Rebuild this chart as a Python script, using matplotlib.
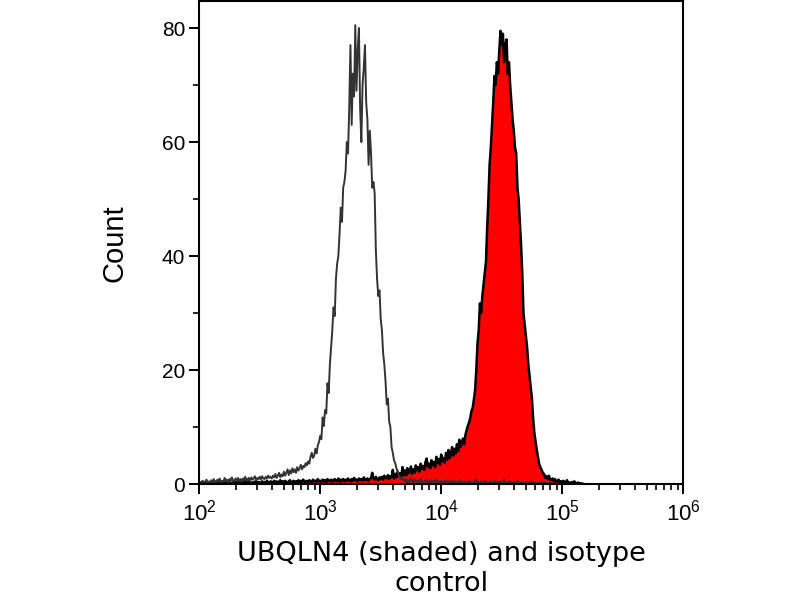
import numpy as np
import matplotlib
matplotlib.use("Agg")
import matplotlib.pyplot as plt
from matplotlib.ticker import MultipleLocator, LogLocator, LogFormatterMathtext

plt.rcParams['font.family'] = ['Liberation Sans', 'DejaVu Sans']
plt.rcParams['mathtext.default'] = 'regular'

# histogram channels, log10 of fluorescence, 0.01 decade apart from 10^2
start_log = 2.0
step_log = 0.01

# isotype control (open, dark grey line)
iso_counts = [
    0.0, 0.3, 0.1, 0.6, 0.2, 0.4, 0.8, 0.2, 0.5, 0.3,
    0.7, 0.2, 0.9, 0.4, 0.3, 0.8, 0.5, 1.0, 0.3, 0.6,
    0.4, 1.1, 0.5, 0.8, 0.3, 0.9, 0.6, 1.2, 0.4, 0.7,
    1.0, 0.5, 1.1, 0.6, 0.9, 0.4, 1.0, 0.7, 1.3, 0.6,
    0.9, 1.1, 0.5, 1.2, 0.8, 1.0, 1.4, 0.7, 1.1, 0.9,
    1.3, 0.8, 1.4, 1.0, 0.9, 1.3, 1.0, 1.5, 1.1, 1.3,
    1.0, 1.5, 1.2, 1.8, 1.1, 1.5, 2.0, 1.2, 1.7, 1.4,
    2.2, 1.5, 2.0, 2.6, 1.6, 2.4, 1.9, 2.8, 2.1, 2.6,
    2.0, 3.0, 2.4, 2.8, 3.4, 2.6, 3.2, 3.0, 3.7, 3.3,
    4.0, 3.6, 4.8, 5.5, 4.6, 5.0, 6.2, 5.4, 6.8, 7.4,
    8.5, 7.9, 11.7, 10.2, 13.0, 12.4, 17.7, 16.0, 21.0, 24.0,
    27.0, 31.0, 29.5, 36.0, 38.7, 40.0, 44.0, 48.5, 46.0, 52.0,
    53.0, 55.0, 60.0, 58.0, 66.0, 77.0, 63.0, 72.0, 68.0, 80.5,
    69.0, 76.0, 80.0, 66.0, 60.0, 70.0, 73.0, 77.0, 67.0, 64.0,
    56.0, 62.0, 58.0, 52.0, 53.0, 51.0, 41.0, 36.0, 33.0, 34.0,
    29.0, 27.0, 23.0, 21.0, 18.0, 14.0, 15.0, 11.0, 10.0, 6.5,
    5.5, 4.2, 3.7, 2.8, 2.3, 1.6, 1.2, 0.9, 1.3, 0.7,
    0.5, 0.9, 0.3, 0.7, 0.4, 1.0, 0.6, 0.3, 0.8, 0.5,
    0.4, 0.7, 0.3, 0.9, 0.5, 0.2, 0.6, 0.4, 0.8, 0.3,
    0.5, 0.2, 0.7, 0.4, 0.6, 0.3, 0.8, 0.2, 0.5, 0.4,
    0.6, 0.3, 0.5, 0.2, 0.7, 0.4, 0.3, 0.6, 0.2, 0.5,
    0.3, 0.6, 0.2, 0.4, 0.5, 0.2, 0.7, 0.3, 0.4, 0.2,
    0.5, 0.3, 0.2, 0.6, 0.3, 0.4, 0.2, 0.5, 0.3, 0.8,
    0.3, 0.4, 0.2, 0.5, 0.3, 0.2, 0.6, 0.3, 0.4, 0.2,
    0.3, 0.5, 0.2, 0.3, 0.6, 0.2, 0.4, 0.3, 0.2, 0.5,
    0.3, 0.2, 0.8, 0.3, 0.4, 0.2, 0.3, 0.5, 0.2, 0.3,
    0.4, 0.2, 0.3, 0.6, 0.2, 0.3, 0.2, 0.4, 0.2, 0.3,
    0.2, 0.4, 0.2, 0.3, 0.2, 0.5, 0.2, 0.3, 0.1, 0.2,
    0.3, 0.1, 0.2, 0.4, 0.1, 0.2, 0.3, 0.1, 0.2, 0.1,
    0.2, 0.1, 0.0, 0.2, 0.1, 0.0, 0.1, 0.0, 0.0, 0.0,
    0.0,
]

# UBQLN4 stained (red shaded, black outline)
ubq_counts = [
    0.0, 0.2, 0.4, 0.1, 0.3, 0.2, 0.5, 0.1, 0.3, 0.2,
    0.4, 0.2, 0.1, 0.3, 0.5, 0.2, 0.3, 0.1, 0.4, 0.2,
    0.3, 0.1, 0.4, 0.2, 0.3, 0.5, 0.2, 0.1, 0.3, 0.4,
    0.2, 0.3, 0.1, 0.5, 0.2, 0.4, 0.2, 0.3, 0.6, 0.2,
    0.3, 0.5, 0.2, 0.3, 0.1, 0.4, 0.3, 0.6, 0.2, 0.4,
    0.3, 0.2, 0.5, 0.3, 0.4, 0.2, 0.6, 0.3, 0.2, 0.5,
    0.4, 0.3, 0.6, 0.2, 0.5, 0.3, 0.4, 0.7, 0.3, 0.5,
    0.3, 0.6, 0.4, 0.2, 0.5, 0.7, 0.3, 0.4, 0.6, 0.3,
    0.5, 0.4, 0.7, 0.3, 0.6, 0.4, 0.8, 0.5, 0.3, 0.6,
    0.4, 0.7, 0.5, 0.3, 0.8, 0.5, 0.6, 0.4, 0.9, 0.5,
    0.6, 0.4, 0.8, 0.5, 0.7, 0.3, 0.9, 0.6, 0.5, 0.8,
    0.4, 0.7, 0.9, 0.5, 0.6, 1.0, 0.4, 0.8, 0.6, 0.9,
    0.5, 0.8, 0.6, 1.0, 0.7, 0.5, 0.9, 0.6, 1.1, 0.7,
    0.8, 0.5, 1.0, 0.7, 0.9, 0.6, 1.2, 0.8, 0.7, 1.0,
    0.6, 0.9, 1.1, 2.0, 1.0, 0.8, 1.3, 0.9, 0.7, 1.2,
    0.9, 1.3, 0.8, 1.5, 1.1, 1.0, 1.6, 0.9, 1.4, 1.2,
    2.5, 1.0, 1.8, 1.2, 2.2, 1.5, 1.9, 1.1, 3.0, 1.6,
    2.4, 1.5, 2.8, 1.9, 2.2, 3.1, 1.8, 2.6, 2.0, 3.3,
    2.4, 3.0, 2.2, 3.6, 2.7, 3.2, 2.5, 3.9, 4.5, 3.0,
    3.6, 2.8, 4.2, 3.3, 3.9, 3.0, 4.8, 3.7, 4.4, 3.4,
    5.2, 4.0, 4.6, 3.8, 5.5, 4.3, 6.0, 4.6, 5.3, 6.5,
    5.0, 6.2, 5.4, 7.0, 5.8, 7.8, 6.5, 7.2, 8.0, 7.0,
    8.6, 9.5, 10.2, 10.8, 11.6, 12.8, 13.4, 14.8, 16.5, 20.0,
    24.7, 27.0, 31.7, 30.0, 33.0, 35.0, 37.0, 39.0, 45.0, 50.0,
    56.0, 59.0, 63.0, 67.0, 71.6, 70.0, 74.0, 72.0, 76.0, 79.5,
    77.0, 79.0, 74.0, 77.0, 78.0, 72.0, 74.0, 70.0, 67.0, 64.0,
    62.0, 59.0, 58.0, 52.0, 50.0, 46.0, 42.0, 37.0, 30.0, 28.0,
    26.0, 24.0, 21.0, 19.0, 17.0, 15.0, 11.5, 9.0, 7.5, 6.0,
    4.7, 3.5, 3.0, 2.5, 2.0, 1.8, 1.1, 1.4, 0.9, 1.5,
    0.8, 0.7, 1.0, 0.5, 0.9, 0.4, 0.6, 0.8, 0.3, 0.5,
    0.3, 0.6, 0.2, 0.4, 0.7, 0.2, 0.3, 0.1, 0.4, 0.2,
    0.5, 0.2, 0.1, 0.3, 0.1, 0.2, 0.0, 0.1, 0.0, 0.0,
    0.0,
]

y_ticks = [0, 20, 40, 60, 80]
x_label = 'UBQLN4 (shaded) and isotype\ncontrol'
y_label = 'Count'

iso_x = 10 ** (start_log + step_log * np.arange(len(iso_counts)))
ubq_x = 10 ** (start_log + step_log * np.arange(len(ubq_counts)))

fig = plt.figure(figsize=(8, 6), dpi=100)
ax = fig.add_axes([0.249, 0.193, 0.605, 0.805])

ax.fill_between(ubq_x, ubq_counts, 0, color='#ff0000', linewidth=0)
ax.plot(ubq_x, ubq_counts, color='black', linewidth=1.8)
ax.plot(iso_x, iso_counts, color='#333333', linewidth=1.4)

ax.set_xscale('log')
ax.set_xlim(1e2, 1e6)
ax.set_ylim(0, 84.7)
ax.set_yticks(y_ticks)
ax.yaxis.set_minor_locator(MultipleLocator(10))
ax.xaxis.set_major_locator(LogLocator(base=10, numticks=10))
ax.xaxis.set_minor_locator(LogLocator(base=10, subs=np.arange(2, 10), numticks=20))
ax.xaxis.set_major_formatter(LogFormatterMathtext())

ax.tick_params(which='major', direction='out', length=7, width=1.4, labelsize=15, pad=3)
ax.tick_params(axis='x', which='major', labelsize=16, pad=4)
ax.tick_params(which='minor', direction='out', length=4.5, width=1.2)
for sp in ax.spines.values():
    sp.set_linewidth(1.5)

ax.set_ylabel(y_label, fontsize=21, labelpad=24)
ax.set_xlabel(x_label, fontsize=19.5, family=['DejaVu Sans'], linespacing=1.2, labelpad=11)

fig.savefig('out.png', dpi=100)
